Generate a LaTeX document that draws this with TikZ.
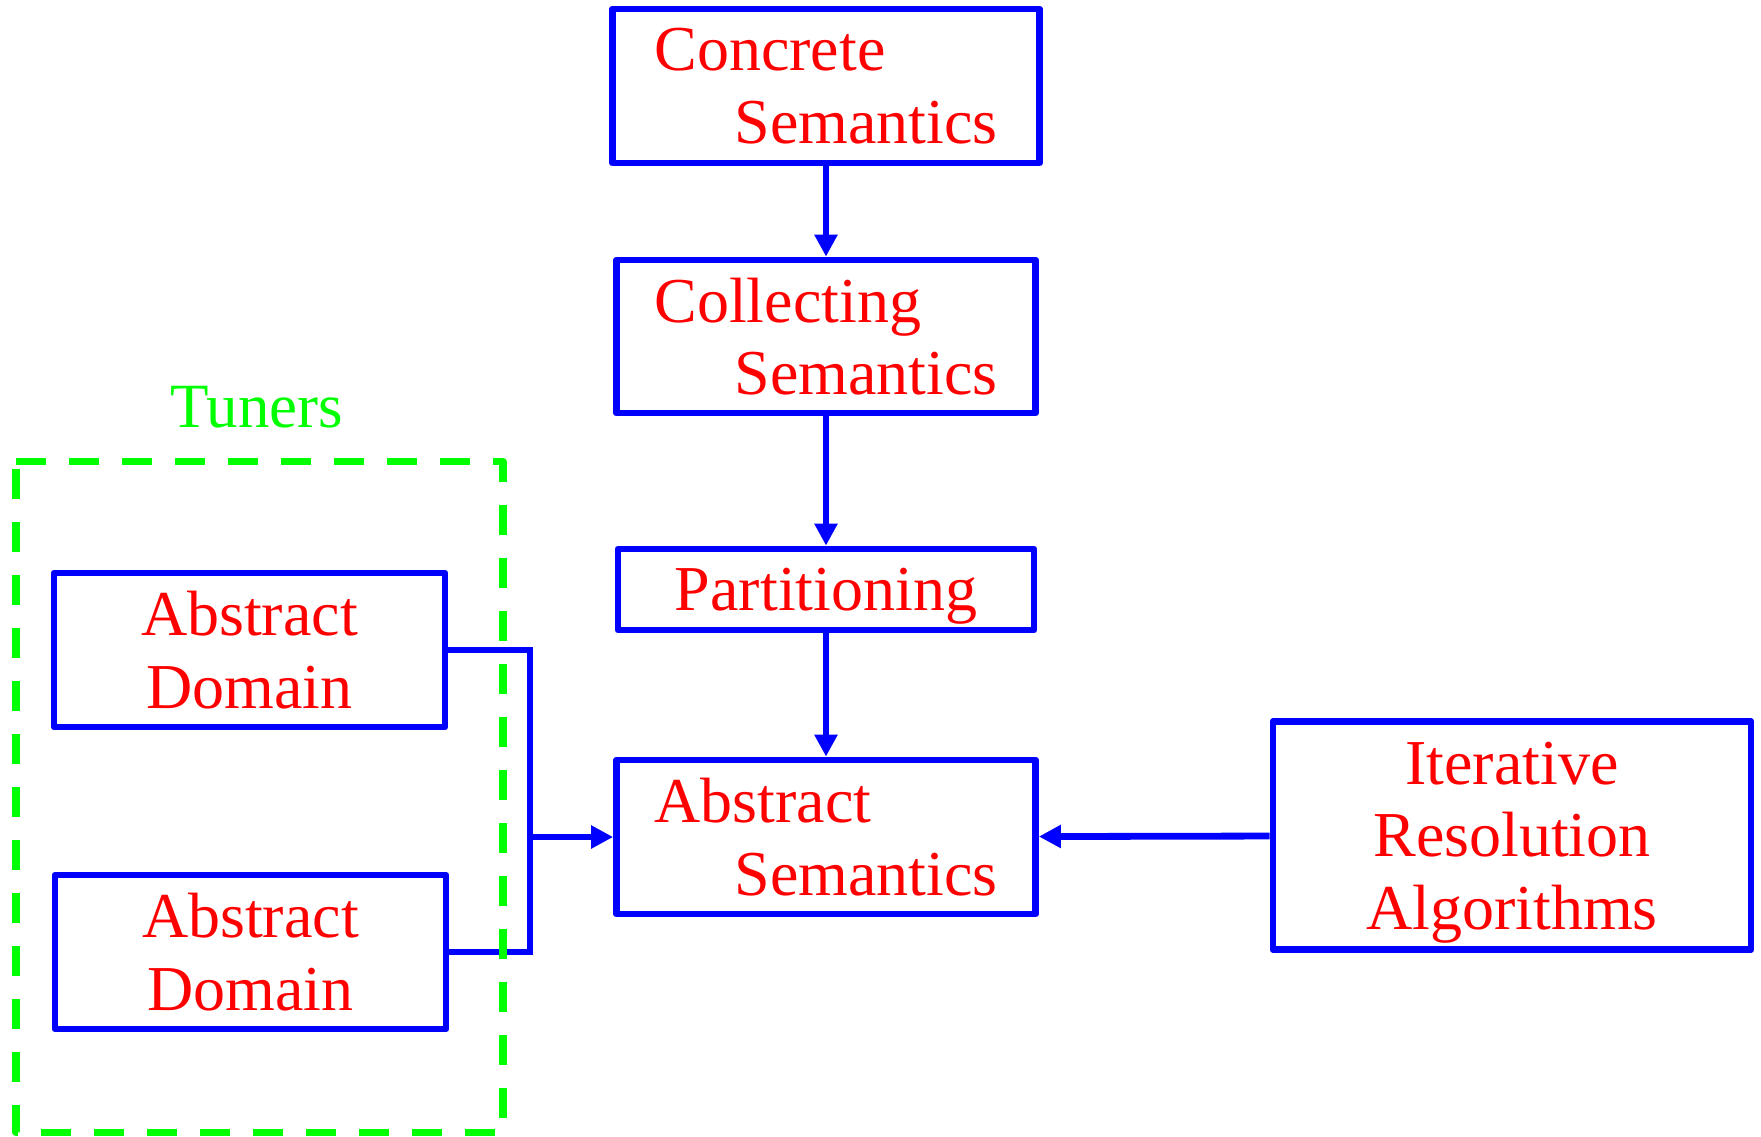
\documentclass[tikz,border=0pt]{standalone}
\usepackage{fontspec}
\setmainfont{Liberation Serif}
\usetikzlibrary{arrows.meta}

\begin{document}
\begin{tikzpicture}[x=0.5pt, y=-0.5pt, line width=3.4pt,
    >={Triangle[width=11pt,length=11pt]},
    box/.style={draw=blue, text=red, line join=round, inner sep=0pt,
      text depth=0pt, font=\fontsize{32}{36.25}\selectfont},
    link/.style={draw=blue, ->},
    wire/.style={draw=blue},
    tunerline/.style={draw=green, line width=3.6pt, line join=round,
      dash pattern=on 15pt off 11.5pt}]
  \useasboundingbox (0,0) rectangle (1761,1136);

  % main chain
  \node[box, align=left, minimum width=213.5pt, minimum height=77pt] (conc) at (826,86)
       {Concrete\\\hspace*{40pt}Semantics};
  \node[box, align=left, minimum width=209.5pt, minimum height=76.5pt] (coll) at (826,336.5)
       {Collecting\\\hspace*{40pt}Semantics};
  \node[box, minimum width=208pt, minimum height=40.5pt] (part) at (826,589.5) {Partitioning};
  \node[box, align=left, minimum width=209.5pt, minimum height=77pt] (absem) at (826,837)
       {Abstract\\\hspace*{40pt}Semantics};
  \node[box, align=center, minimum width=239pt, minimum height=114pt] (iter) at (1512,835.5)
       {Iterative\\Resolution\\Algorithms};

  % tuners
  \node[box, align=center, minimum width=195.5pt, minimum height=77pt] (dom1) at (249.5,650)
       {Abstract\\Domain};
  \node[box, align=center, minimum width=195.5pt, minimum height=77pt] (dom2) at (250.5,952)
       {Abstract\\Domain};
  \coordinate (merge) at (530,837);

  % arrows
  \draw[link] (conc.south) -- (coll.north);
  \draw[link] (coll.south) -- (part.north);
  \draw[link] (part.south) -- (absem.north);
  \draw[link] (iter) -- (absem);
  \draw[wire] (dom1.east) -| (merge);
  \draw[wire] (dom2.east) -| (merge);
  \draw[link] (merge) -- (absem.west);

  % dashed group
  \draw[tunerline] (16,461.5) -- (503,461.5) -- (503,1132.5) -- (16,1132.5) -- cycle;
  \node[text=green, anchor=base, font=\fontsize{31.5}{36}\selectfont] (tunlbl) at (257,427) {Tuners};
\end{tikzpicture}
\end{document}
